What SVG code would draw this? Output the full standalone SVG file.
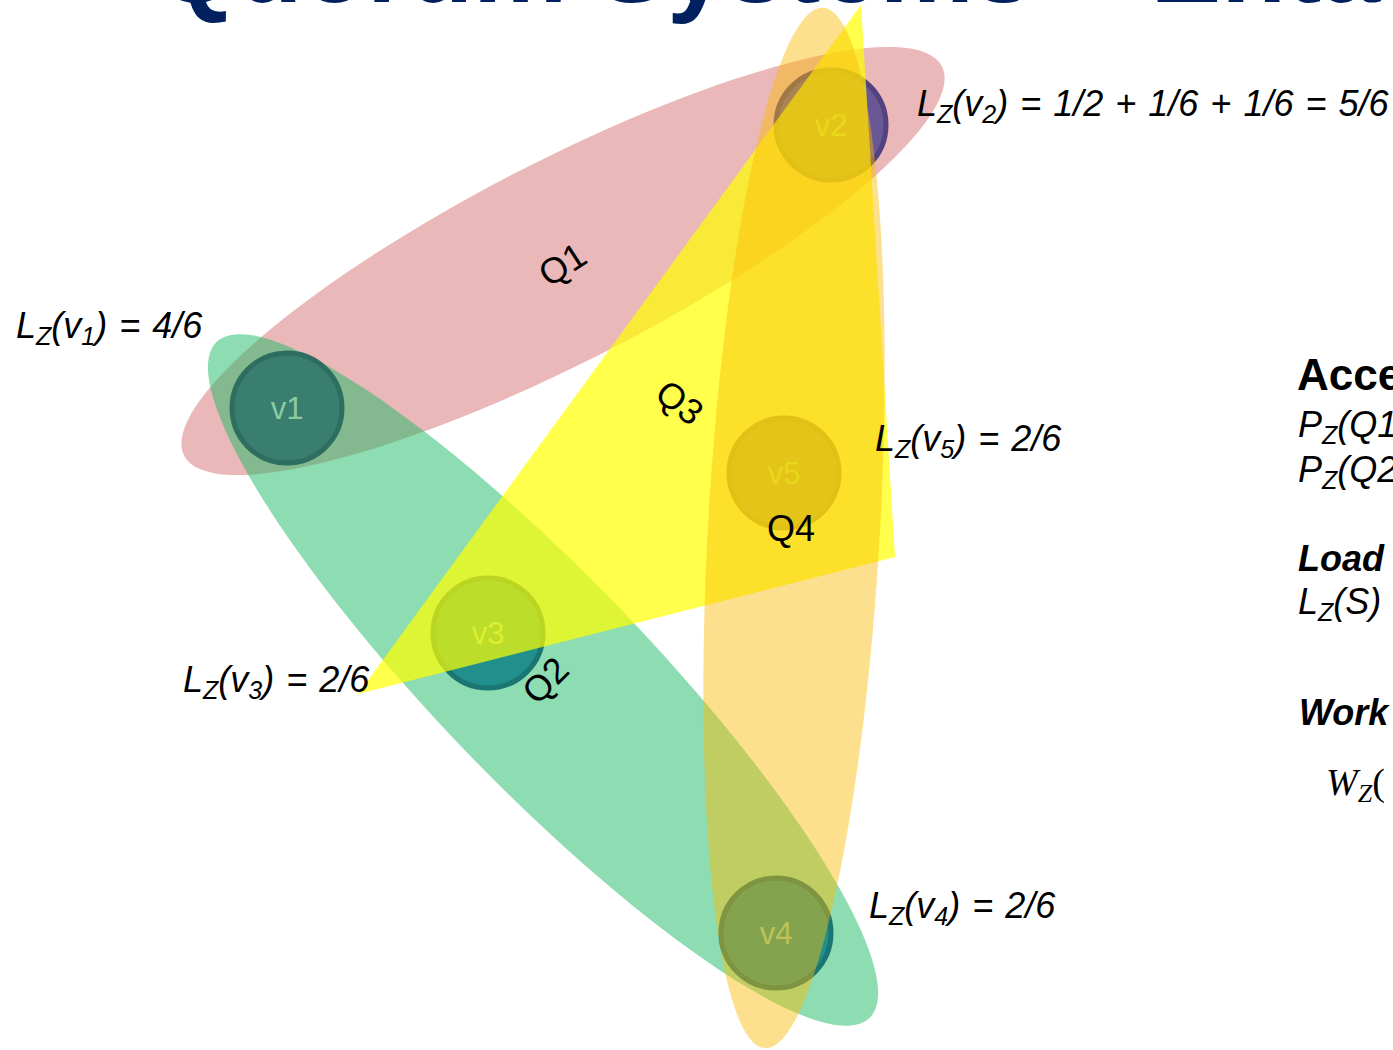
<svg xmlns="http://www.w3.org/2000/svg" width="1393" height="1050" viewBox="0 0 1393 1050">
<style>
text{font-family:"Liberation Sans",Arial,sans-serif}
.title{font-size:106px;font-weight:bold;fill:#002060}
.f{font-size:36px;font-style:italic;fill:#000;word-spacing:2px}
.s{font-size:25px}
.q{font-size:36px;fill:#000;text-anchor:middle}
.b{font-weight:bold}
.nd circle{stroke-width:5}
.nd text{font-size:31px;fill:#8ccaa0;text-anchor:middle}
.purple circle{fill:#6a5896;stroke:#54427e}
.teal circle{fill:#21908c;stroke:#1a7573}
.pink{fill:#d57173;fill-opacity:.5}
.green{fill:#1db965;fill-opacity:.5}
.yel{fill:#ffff00;fill-opacity:.7}
.org{fill:#fbba02;fill-opacity:.45}
</style>
<text class="title" x="155" y="2">Quorum Systems – Enta</text>
<g id="quorums-back">
<ellipse id="Q1-shape" class="pink" cx="563" cy="261" rx="426" ry="100" transform="rotate(-27.2 563 261)"/>
<ellipse id="Q2-shape" class="green" cx="543" cy="680" rx="470" ry="105" transform="rotate(46 543 680)"/>
</g>
<g id="v1" class="nd"><circle cx="287" cy="408" r="55" fill="#3a7e70" stroke="#2e6e60"/><text x="287" y="419">v1</text></g>
<g id="v2" class="nd purple"><circle cx="831" cy="125" r="55"/><text x="831" y="136">v2</text></g>
<g id="v3" class="nd teal"><circle cx="488" cy="633" r="55"/><text x="488" y="644">v3</text></g>
<g id="v4" class="nd teal"><circle cx="776" cy="933" r="55"/><text x="776" y="944">v4</text></g>
<g id="v5" class="nd purple"><circle cx="784" cy="473" r="55"/><text x="784" y="484">v5</text></g>
<g id="quorums-front">
<polygon id="Q3-shape" class="yel" points="861,5 895,557 358,694"/>
<ellipse id="Q4-shape" class="org" cx="794" cy="528" rx="86" ry="521" transform="rotate(3.2 794 528)"/>
</g>
<g id="connectors"></g>
<g id="quorum-labels">
<text class="q" x="0" y="13" transform="translate(562,264) rotate(-33)">Q1</text>
<text class="q" x="0" y="13" transform="translate(545,680) rotate(-45)">Q2</text>
<text class="q" x="0" y="13" transform="translate(680,402) rotate(38)">Q3</text>
<text class="q" x="791" y="541">Q4</text>
</g>
<g id="loads">
<text class="f" x="917" y="116">L<tspan class="s" dy="7">Z</tspan><tspan dy="-7">(v</tspan><tspan class="s" dy="7">2</tspan><tspan dy="-7">) = 1/2 + 1/6 + 1/6 = 5/6</tspan></text>
<text class="f" x="16" y="338">L<tspan class="s" dy="7">Z</tspan><tspan dy="-7">(v</tspan><tspan class="s" dy="7">1</tspan><tspan dy="-7">) = 4/6</tspan></text>
<text class="f" x="875" y="451">L<tspan class="s" dy="7">Z</tspan><tspan dy="-7">(v</tspan><tspan class="s" dy="7">5</tspan><tspan dy="-7">) = 2/6</tspan></text>
<text class="f" x="183" y="692">L<tspan class="s" dy="7">Z</tspan><tspan dy="-7">(v</tspan><tspan class="s" dy="7">3</tspan><tspan dy="-7">) = 2/6</tspan></text>
<text class="f" x="869" y="918">L<tspan class="s" dy="7">Z</tspan><tspan dy="-7">(v</tspan><tspan class="s" dy="7">4</tspan><tspan dy="-7">) = 2/6</tspan></text>
</g>
<g id="panel">
<text class="b" x="1297" y="390" font-size="44">Acce</text>
<text class="f" x="1298" y="437">P<tspan class="s" dy="7">Z</tspan><tspan dy="-7">(Q1</tspan></text>
<text class="f" x="1298" y="482">P<tspan class="s" dy="7">Z</tspan><tspan dy="-7">(Q2</tspan></text>
<text class="f b" x="1298" y="571">Load</text>
<text class="f" x="1298" y="614">L<tspan class="s" dy="7">Z</tspan><tspan dy="-7">(S)</tspan></text>
<text class="f b" x="1299" y="725">Work</text>
<text x="1326" y="795" style="font-family:'Liberation Serif',serif;font-size:38px;font-style:italic">W<tspan font-size="26" dy="7">Z</tspan><tspan dy="-7" font-style="normal">(</tspan></text>
</g>
</svg>
